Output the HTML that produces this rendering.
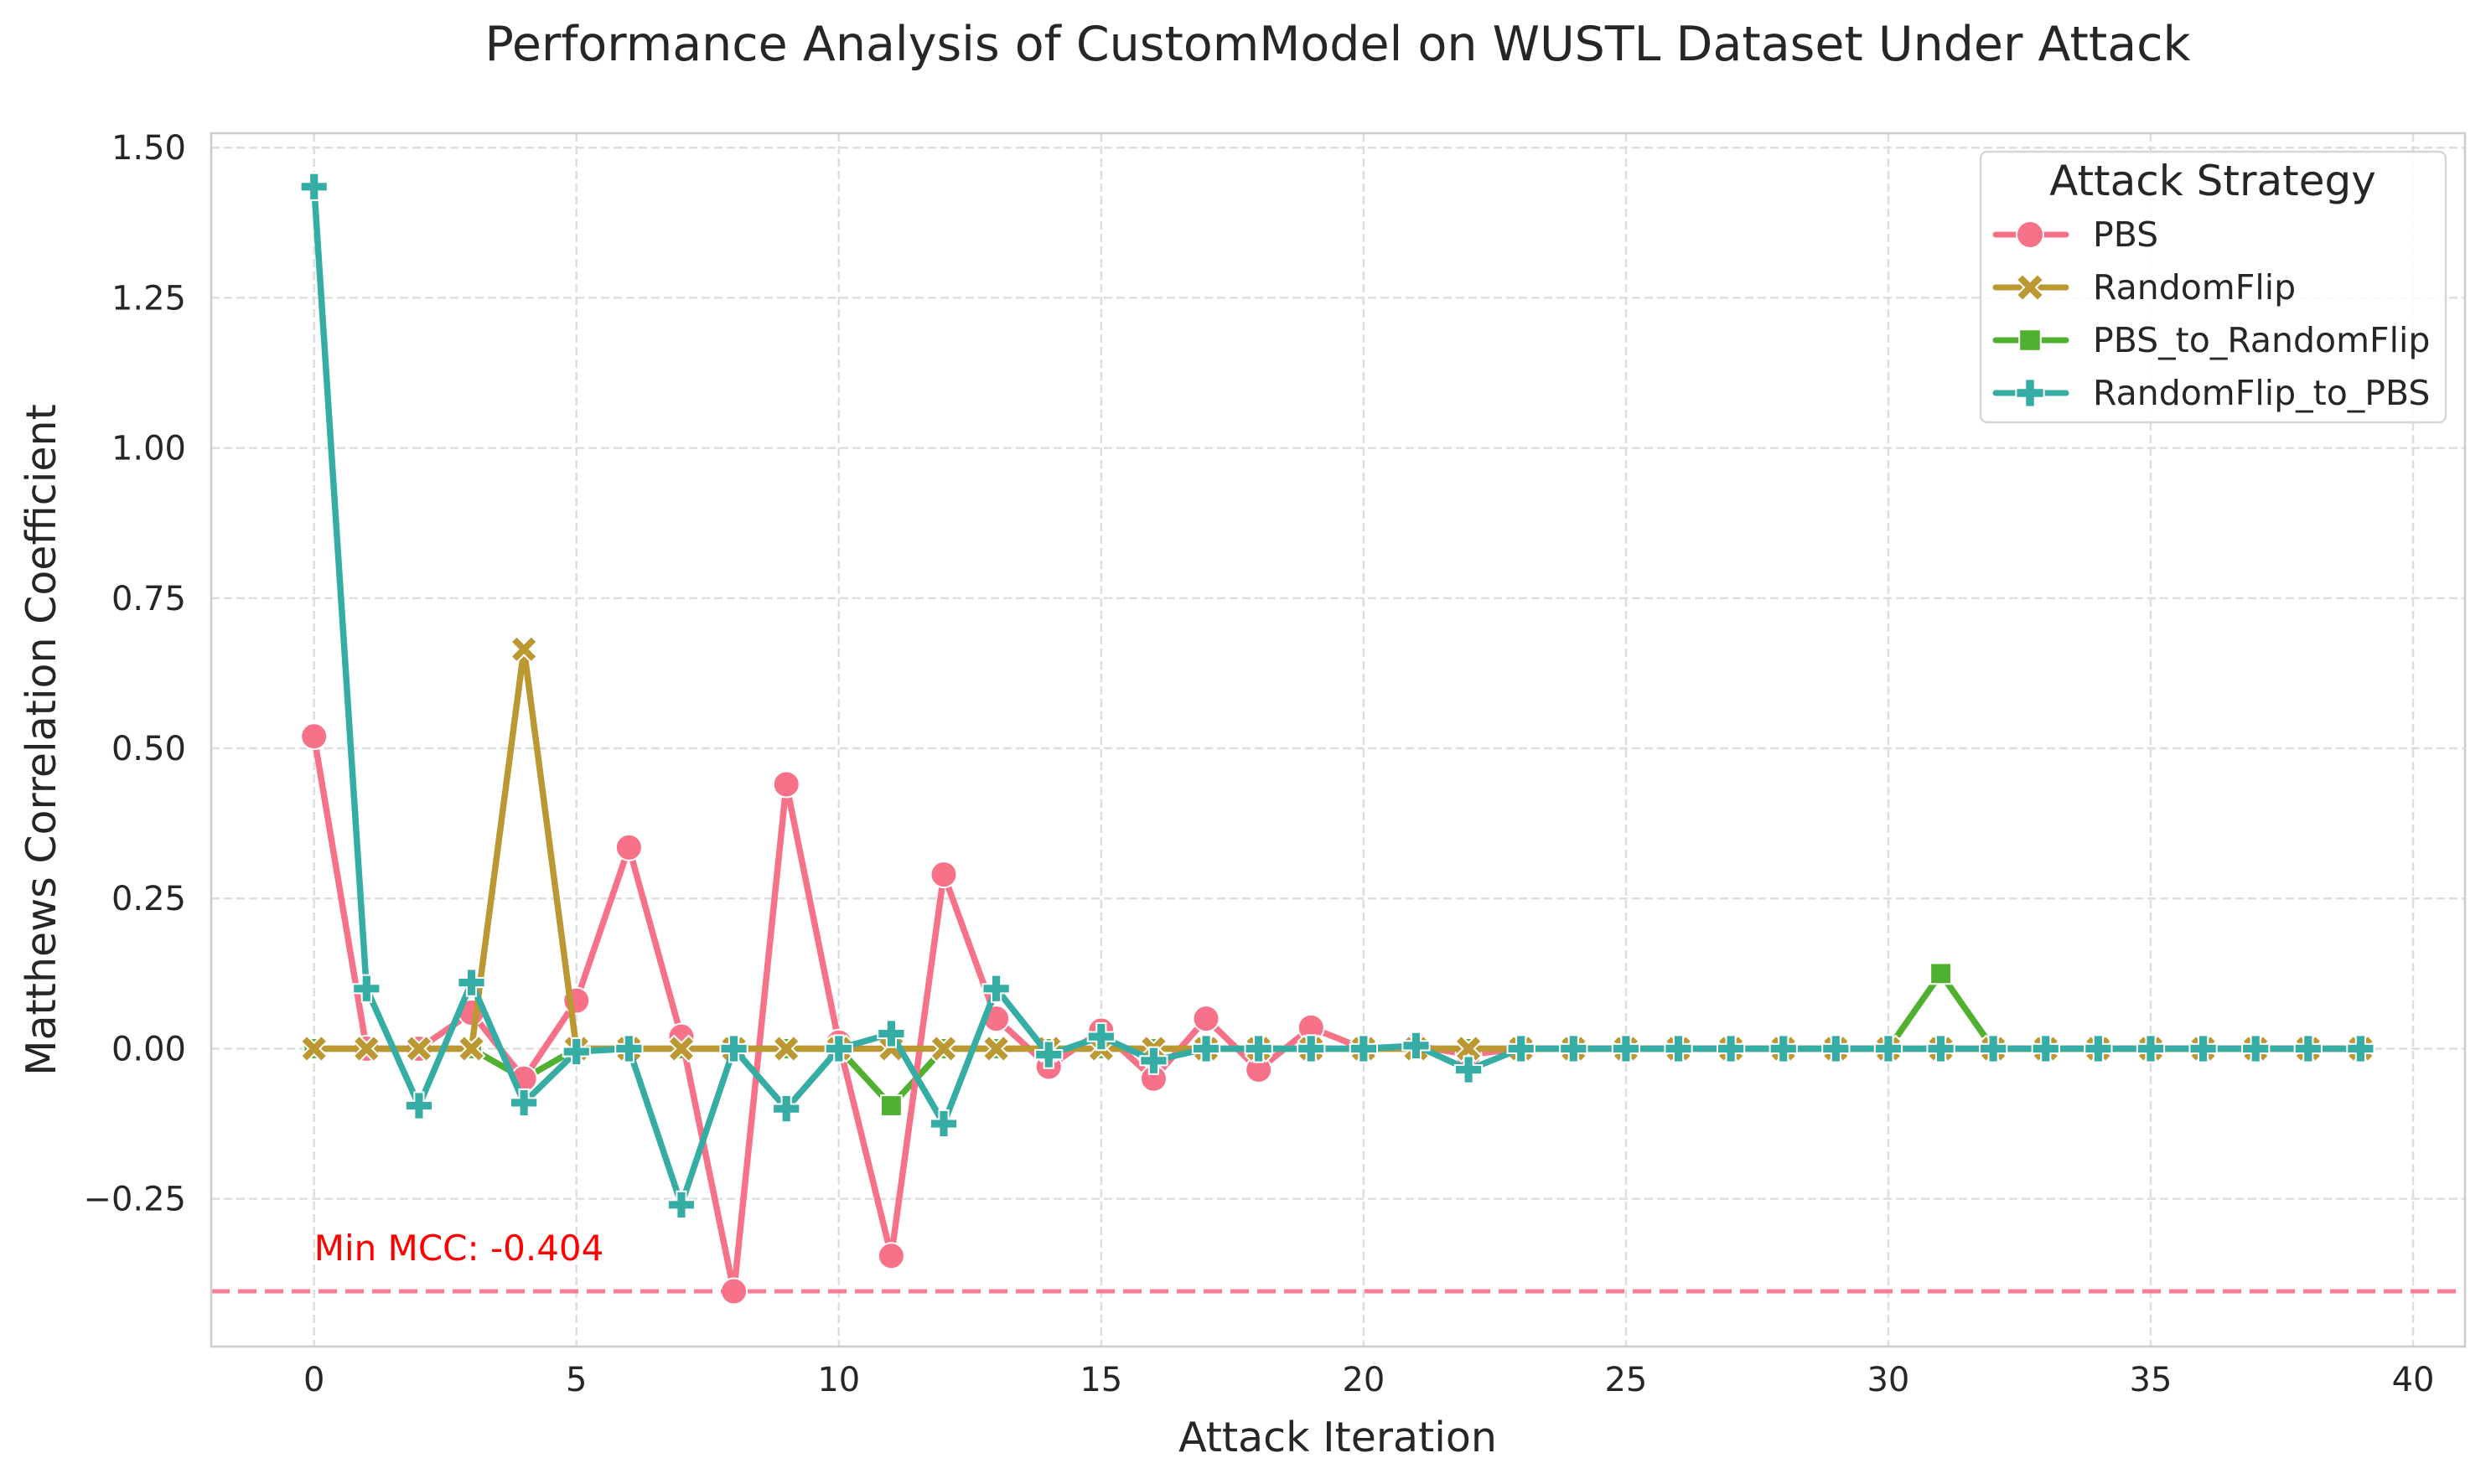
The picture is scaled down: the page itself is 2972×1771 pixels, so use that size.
<!DOCTYPE html>
<html><head><meta charset="utf-8"><style>
html,body{margin:0;padding:0;background:#fff;}
svg{display:block;font-family:"DejaVu Sans","Liberation Sans",sans-serif;}
</style></head><body>
<svg id="chart" width="2972" height="1771" viewBox="0 0 2972 1771" xmlns="http://www.w3.org/2000/svg">
<rect width="2972" height="1771" fill="#fff"/>
<text x="1596" y="72" text-anchor="middle" font-size="57" fill="#262626">Performance Analysis of CustomModel on WUSTL Dataset Under Attack</text>
<g id="grid"></g>
<g id="series"></g>
<g id="axes"></g>
<text x="1596" y="1732" text-anchor="middle" font-size="49" fill="#262626">Attack Iteration</text>
<text transform="translate(66,883) rotate(-90)" text-anchor="middle" font-size="49" fill="#262626">Matthews Correlation Coefficient</text>
<g id="legend"></g>
</svg>
<script>
const iterations = Array.from({length:40},(_,i)=>i);
const pbsValues = [0.52,0.0,0.0,0.06,-0.05,0.08,0.335,0.02,-0.404,0.44,0.01,-0.345,0.29,0.05,-0.03,0.03,-0.05,0.05,-0.035,0.035,0,0.005,-0.01,0,0,0,0,0,0,0,0,0,0,0,0,0,0,0,0,0];
const randomFlipValues = [0,0,0,0,0.665,0,0,0,0,0,0,0,0,0,0,0,0,0,0,0,0,0,0,0,0,0,0,0,0,0,0,0,0,0,0,0,0,0,0,0];
const pbsToRandomFlipValues = [0,0,0,0,-0.05,0,0,0,0,0,0,-0.095,0,0,0,0,0,0,0,0,0,0,0,0,0,0,0,0,0,0,0,0.125,0,0,0,0,0,0,0,0];
const randomFlipToPbsValues = [1.435,0.10,-0.095,0.11,-0.09,-0.005,0,-0.26,0,-0.10,0,0.025,-0.125,0.10,-0.01,0.02,-0.02,0,0,0,0,0.005,-0.035,0,0,0,0,0,0,0,0,0,0,0,0,0,0,0,0,0];
const seriesNames = ["PBS","RandomFlip","PBS_to_RandomFlip","RandomFlip_to_PBS"];
const xTicks = [0,5,10,15,20,25,30,35,40];
const yTicks = [-0.25,0,0.25,0.5,0.75,1.0,1.25,1.5];
const yTickLabels = ["\u22120.25","0.00","0.25","0.50","0.75","1.00","1.25","1.50"];
const minMcc = -0.404;

const NS="http://www.w3.org/2000/svg";
const L=252,R=2941,T=159,B=1607;
const xMin=-1.96,xMax=40.99,yMin=-0.496,yMax=1.524;
const xs=v=>L+(v-xMin)/(xMax-xMin)*(R-L);
const ys=v=>B-(v-yMin)/(yMax-yMin)*(B-T);
function mk(tag,attrs,parent){const e=document.createElementNS(NS,tag);for(const k in attrs)e.setAttribute(k,attrs[k]);parent.appendChild(e);return e;}
const grid=document.getElementById('grid'),axes=document.getElementById('axes'),ser=document.getElementById('series'),leg=document.getElementById('legend');

xTicks.forEach(t=>{
  const g=mk('line',{x1:xs(t),x2:xs(t),y1:T,y2:B,stroke:'#dedede','stroke-width':2.5,'stroke-dasharray':'10,5'},grid);
  
  
  const tx=mk('text',{x:xs(t),y:B+53,'text-anchor':'middle','font-size':40,fill:'#262626'},axes);
  tx.textContent=t;
  
  
});
yTicks.forEach((t,i)=>{
  const g=mk('line',{x1:L,x2:R,y1:ys(t),y2:ys(t),stroke:'#dedede','stroke-width':2.5,'stroke-dasharray':'10,5'},grid);
  
  
  const tx=mk('text',{x:L-30,y:ys(t)+14,'text-anchor':'end','font-size':40,fill:'#262626'},axes);
  tx.textContent=yTickLabels[i];
  
  
});
const frame=mk('rect',{x:L,y:T,width:R-L,height:B-T,fill:'none',stroke:'#cccccc','stroke-width':2.5},axes);



const colors=['#f77189','#bb9832','#50b131','#36ada4'];
const data=[pbsValues,randomFlipValues,pbsToRandomFlipValues,randomFlipToPbsValues];
function marker(kind,cx,cy,color,parent,s){
  let e;
  if(kind===0){e=mk('ellipse',{cx,cy,rx:s*0.5,ry:s*0.5,fill:color,stroke:'#fff','stroke-width':2},parent);}
  else if(kind===1){const a=s*0.5,b=s*0.22;
    e=mk('path',{d:`M${cx-a},${cy-a+b}L${cx-a+b},${cy-a}L${cx},${cy-b}L${cx+a-b},${cy-a}L${cx+a},${cy-a+b}L${cx+b},${cy}L${cx+a},${cy+a-b}L${cx+a-b},${cy+a}L${cx},${cy+b}L${cx-a+b},${cy+a}L${cx-a},${cy+a-b}L${cx-b},${cy}Z`,fill:color,stroke:'#fff','stroke-width':2},parent);}
  else if(kind===2){const a=s*0.4;e=mk('rect',{x:cx-a,y:cy-a,width:2*a,height:2*a,fill:color,stroke:'#fff','stroke-width':2},parent);}
  else {const a=s*0.52,b=s*0.18;
    e=mk('path',{d:`M${cx-b},${cy-a}H${cx+b}V${cy-b}H${cx+a}V${cy+b}H${cx+b}V${cy+a}H${cx-b}V${cy+b}H${cx-a}V${cy-b}H${cx-b}Z`,fill:color,stroke:'#fff','stroke-width':2},parent);}
  return e;
}
const drawOrder=[2,0,1,3];
drawOrder.forEach(si=>{
  const vals=data[si];
  const g=mk('g',{},ser);
  
  
  const p=mk('polyline',{points:vals.map((v,i)=>xs(iterations[i])+','+ys(v)).join(' '),fill:'none',stroke:colors[si],'stroke-width':7.5,'stroke-linejoin':'round','stroke-linecap':'round'},g);
  
  
  vals.forEach((v,i)=>{
    const m=marker(si,xs(iterations[i]),ys(v),colors[si],g,31);
    
    
  });
});
const ml=mk('line',{x1:L,x2:R,y1:ys(minMcc),y2:ys(minMcc),stroke:'#f77189','stroke-opacity':0.9,'stroke-width':5,'stroke-dasharray':'22,10'},ser);


const mt=mk('text',{x:xs(0),y:ys(minMcc)-37,'font-size':42,fill:'#ff0000'},ser);
mt.textContent='Min MCC: '+minMcc.toFixed(3);



const lb=mk('rect',{x:2363,y:181,width:555,height:323,rx:8,fill:'#fff','fill-opacity':0.85,stroke:'#d6d6d6','stroke-width':2.5},leg);


const lt=mk('text',{x:2640,y:233,'text-anchor':'middle','font-size':50,fill:'#262626'},leg);
lt.textContent='Attack Strategy';


seriesNames.forEach((n,i)=>{
  const y=280+i*63;
  const g=mk('g',{},leg);
  
  
  mk('line',{x1:2381,x2:2465,y1:y,y2:y,stroke:colors[i],'stroke-width':7,'stroke-linecap':'round'},g);
  marker(i,2422,y,colors[i],g,32);
  const t=mk('text',{x:2497,y:y+14,'font-size':41,fill:'#262626'},g);
  t.textContent=n;
});
</script>
</body></html>
